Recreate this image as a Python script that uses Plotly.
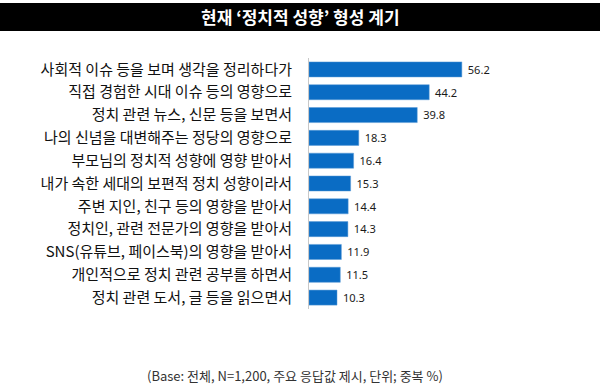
import plotly.graph_objects as go

categories = [
    "사회적 이슈 등을 보며 생각을 정리하다가",
    "직접 경험한 시대 이슈 등의 영향으로",
    "정치 관련 뉴스, 신문 등을 보면서",
    "나의 신념을 대변해주는 정당의 영향으로",
    "부모님의 정치적 성향에 영향 받아서",
    "내가 속한 세대의 보편적 정치 성향이라서",
    "주변 지인, 친구 등의 영향을 받아서",
    "정치인, 관련 전문가의 영향을 받아서",
    "SNS(유튜브, 페이스북)의 영향을 받아서",
    "개인적으로 정치 관련 공부를 하면서",
    "정치 관련 도서, 글 등을 읽으면서",
]
values = [56.2, 44.2, 39.8, 18.3, 16.4, 15.3, 14.4, 14.3, 11.9, 11.5, 10.3]
value_labels = [f" {v:.1f}" for v in values]

title_text = "현재 ‘정치적 성향’ 형성 계기"
footnote = "(Base: 전체, N=1,200, 주요 응답값 제시, 단위; 중복 %)"

W, H = 600, 391
fig = go.Figure(go.Bar(
    x=values, y=categories, orientation="h",
    marker=dict(color="#0A6CC4", line=dict(color="#5A9AD6", width=0.5)),
    width=0.66,
    text=value_labels, textposition="outside",
    textfont=dict(family="Noto Sans, Open Sans, sans-serif", size=14, color="#1a1a1a"),
    cliponaxis=False,
    hoverinfo="skip",
))

fig.update_layout(
    width=W, height=H,
    margin=dict(l=309, r=0, t=58, b=82),
    paper_bgcolor="white", plot_bgcolor="white",
    showlegend=False,
    font=dict(family="Noto Sans CJK KR, sans-serif", color="#111111"),
    xaxis=dict(range=[0, 107], visible=False, fixedrange=True),
    yaxis=dict(
        autorange="reversed", showgrid=False, zeroline=False,
        showline=True, linecolor="#C8C8C8", linewidth=1,
        ticks="", ticklabelstandoff=13, automargin=False, fixedrange=True,
        tickfont=dict(family="Noto Sans CJK KR, sans-serif", size=15, color="#111111"),
    ),
    shapes=[dict(type="rect", xref="paper", yref="paper",
                 x0=-309 / 291, x1=1, y0=1 + (58 - 31) / 251, y1=1 + (58 - 3) / 251,
                 fillcolor="black", line=dict(width=0), layer="above")],
    annotations=[
        dict(text=f"<b>{title_text}</b>", xref="paper", yref="paper",
             x=(300 - 309) / 291, y=1 + (58 - 17) / 251, xanchor="center", yanchor="middle",
             showarrow=False, font=dict(family="Noto Sans CJK KR, sans-serif", size=17, color="white")),
        dict(text=footnote, xref="paper", yref="paper",
             x=(295 - 309) / 291, y=-(375 - 309) / 251, xanchor="center", yanchor="middle",
             showarrow=False, font=dict(family="Noto Sans CJK KR, sans-serif", size=13, color="#333333")),
    ],
)

fig.write_html("out.html", config={"displayModeBar": False},
               post_script="document.body.style.margin='0';")
